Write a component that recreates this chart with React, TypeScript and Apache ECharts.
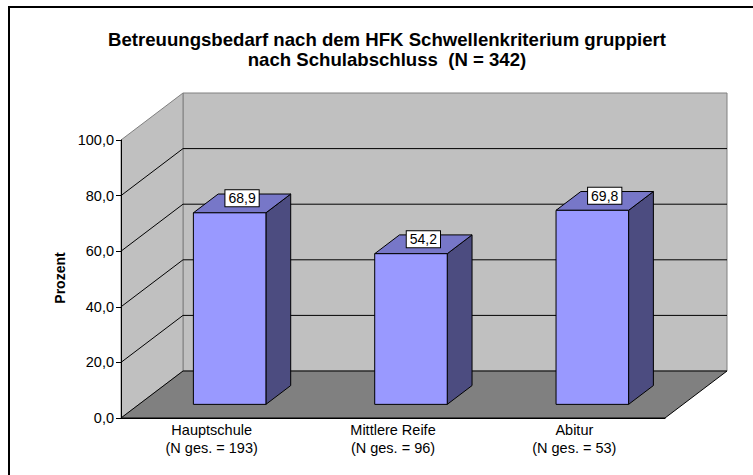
import React, { useEffect, useRef } from "react";
import * as echarts from "echarts";

const titleLines = [
  "Betreuungsbedarf nach dem HFK Schwellenkriterium gruppiert",
  "nach Schulabschluss  (N = 342)",
];
const categoryNames = ["Hauptschule", "Mittlere Reife", "Abitur"];
const groupN = [193, 96, 53];
const values = [68.9, 54.2, 69.8];
const yMin = 0;
const yMax = 100;
const yInterval = 20;
const yAxisName = "Prozent";

const FONT = '"Liberation Sans", Arial, sans-serif';
// oblique 3D projection (pixels of the full depth)
const DX = 62;
const DY = -47;
const F1 = 0.29; // bar front depth fraction
const F2 = 0.69; // bar back depth fraction
const BAR_RATIO = 0.4;

const fmt = (v: number) => v.toFixed(1).replace(".", ",");

export default function App() {
  const ref = useRef<HTMLDivElement>(null);
  useEffect(() => {
    if (!ref.current) return;
    const chart = echarts.init(ref.current, undefined, { renderer: "svg" });
    const gridValues: number[] = [];
    for (let v = yMin + yInterval; v < yMax; v += yInterval) gridValues.push(v);

    const renderWalls = (params: any, api: any) => {
      const cs = params.coordSys;
      const x0 = cs.x;
      const x1 = cs.x + cs.width;
      const yb = api.coord([0, yMin])[1];
      const yt = api.coord([0, yMax])[1];
      const children: any[] = [];
      children.push({
        type: "rect",
        shape: { x: x0 + DX, y: yt + DY, width: x1 - x0, height: yb - yt },
        style: { fill: "#c0c0c0", stroke: "#808080", lineWidth: 1 },
      });
      children.push({
        type: "polygon",
        shape: { points: [[x0, yt], [x0 + DX, yt + DY], [x0 + DX, yb + DY], [x0, yb]] },
        style: { fill: "#c0c0c0", stroke: "#808080", lineWidth: 1 },
      });
      children.push({
        type: "polygon",
        shape: { points: [[x0, yb], [x0 + DX, yb + DY], [x1 + DX, yb + DY], [x1, yb]] },
        style: { fill: "#808080", stroke: "#000", lineWidth: 1 },
      });
      gridValues.forEach((v) => {
        const y = api.coord([0, v])[1];
        children.push({
          type: "line",
          shape: { x1: x0 + DX, y1: y + DY, x2: x1 + DX, y2: y + DY },
          style: { stroke: "#000", lineWidth: 1 },
        });
        children.push({
          type: "line",
          shape: { x1: x0, y1: y, x2: x0 + DX, y2: y + DY },
          style: { stroke: "#000", lineWidth: 1 },
        });
      });
      return { type: "group", children };
    };

    const renderBar = (params: any, api: any) => {
      const idx = api.value(0);
      const val = api.value(1);
      const top = api.coord([idx, val]);
      const base = api.coord([idx, 0]);
      const band = api.size([1, 0])[0];
      const w = band * BAR_RATIO;
      const fx = top[0] - w / 2 + DX * F1;
      const fy0 = top[1] + DY * F1;
      const fy1 = base[1] + DY * F1;
      const bx = DX * (F2 - F1);
      const by = DY * (F2 - F1);
      const line = { stroke: "#000", lineWidth: 1, lineJoin: "round" };
      return {
        type: "group",
        children: [
          {
            type: "polygon",
            shape: { points: [[fx + w, fy0], [fx + w + bx, fy0 + by], [fx + w + bx, fy1 + by], [fx + w, fy1]] },
            style: { fill: "#4c4c80", ...line },
          },
          {
            type: "polygon",
            shape: { points: [[fx, fy0], [fx + w, fy0], [fx + w + bx, fy0 + by], [fx + bx, fy0 + by]] },
            style: { fill: "#7777c8", ...line },
          },
          {
            type: "rect",
            shape: { x: fx, y: fy0, width: w, height: fy1 - fy0 },
            style: { fill: "#9999ff", ...line },
          },
          {
            type: "text",
            x: top[0] + (DX * (F1 + F2)) / 2,
            y: fy0 - 14.5,
            style: {
              text: fmt(val),
              fontSize: 14,
              fontFamily: FONT,
              fill: "#000",
              align: "center",
              verticalAlign: "middle",
              textAlign: "center",
              textVerticalAlign: "middle",
              backgroundColor: "#fff",
              borderColor: "#000",
              borderWidth: 1,
              padding: [1, 3, 1, 3],
              lineHeight: 14,
            },
          },
        ],
      };
    };

    const titleText = (text: string, y: number) => ({
      type: "text",
      x: 387,
      y,
      style: {
        text,
        fontSize: 18.6,
        fontWeight: "bold",
        fontFamily: FONT,
        fill: "#000",
        align: "center",
        verticalAlign: "middle",
        textAlign: "center",
        textVerticalAlign: "middle",
      },
    });

    chart.setOption({
      animation: false,
      backgroundColor: "#fff",
      grid: { left: 121, top: 140, width: 544, height: 278 },
      xAxis: {
        type: "category",
        data: categoryNames.map((c, i) => `${c}\n(N ges. = ${groupN[i]})`),
        axisLine: { show: true, lineStyle: { color: "#000", width: 1 } },
        axisTick: { show: false },
        axisLabel: {
          interval: 0,
          color: "#000",
          fontSize: 14.5,
          fontFamily: FONT,
          lineHeight: 18,
          margin: 3,
        },
        z: 5,
      },
      yAxis: {
        type: "value",
        min: yMin,
        max: yMax,
        interval: yInterval,
        axisLine: { show: true, lineStyle: { color: "#000", width: 1 } },
        axisTick: { show: true, length: 5, lineStyle: { color: "#000" } },
        axisLabel: {
          formatter: (v: number) => fmt(v),
          color: "#000",
          fontSize: 14.5,
          fontFamily: FONT,
          margin: 7,
        },
        splitLine: { show: false },
        z: 5,
      },
      graphic: [
        {
          type: "line",
          shape: { x1: 8, y1: 7, x2: 753, y2: 7 },
          style: { stroke: "#000", lineWidth: 2 },
        },
        {
          type: "line",
          shape: { x1: 9, y1: 6, x2: 9, y2: 475 },
          style: { stroke: "#000", lineWidth: 2 },
        },
        titleText(titleLines[0], 39),
        titleText(titleLines[1], 59.5),
        {
          type: "text",
          x: 60,
          y: 278,
          rotation: Math.PI / 2,
          style: {
            text: yAxisName,
            fontSize: 14,
            fontWeight: "bold",
            fontFamily: FONT,
            fill: "#000",
            align: "center",
            verticalAlign: "middle",
            textAlign: "center",
            textVerticalAlign: "middle",
          },
        },
      ],
      series: [
        {
          type: "custom",
          coordinateSystem: "cartesian2d",
          renderItem: renderWalls,
          data: [[0, 0]],
          z: 1,
          silent: true,
        },
        {
          type: "custom",
          coordinateSystem: "cartesian2d",
          renderItem: renderBar,
          data: values.map((v, i) => [i, v]),
          z: 2,
        },
      ],
    });
    return () => chart.dispose();
  }, []);
  return (
    <div
      ref={ref}
      style={{ position: "fixed", left: 0, top: 0, width: 753, height: 475 }}
    />
  );
}
